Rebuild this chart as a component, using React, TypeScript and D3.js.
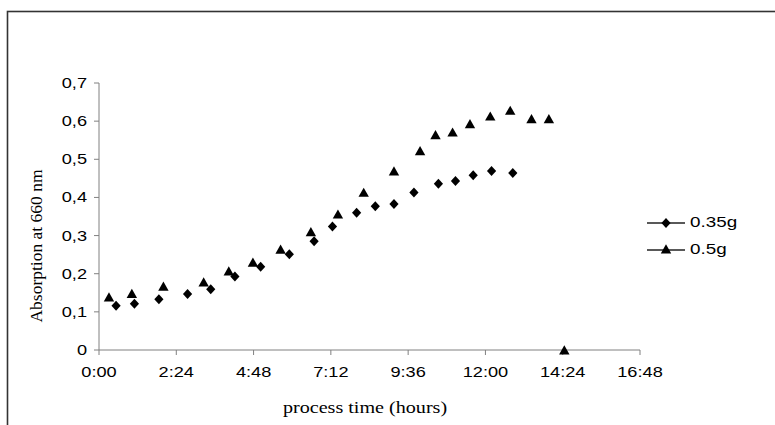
import React from "react";
import * as d3 from "d3";

// process time in hours, absorbance at 660 nm
const timesA = [0.53, 1.1, 1.86, 2.75, 3.47, 4.22, 5.02, 5.91, 6.68, 7.25, 8.0, 8.58, 9.16, 9.78, 10.54, 11.07, 11.62, 12.19, 12.85];
const valuesA = [0.116, 0.121, 0.133, 0.147, 0.159, 0.193, 0.218, 0.251, 0.285, 0.324, 0.36, 0.377, 0.383, 0.413, 0.436, 0.443, 0.458, 0.469, 0.464];
const timesB = [0.31, 1.02, 2.0, 3.25, 4.03, 4.78, 5.64, 6.58, 7.42, 8.22, 9.16, 9.97, 10.45, 10.98, 11.52, 12.15, 12.77, 13.43, 13.97, 14.45];
const valuesB = [0.139, 0.148, 0.167, 0.178, 0.207, 0.23, 0.264, 0.31, 0.356, 0.413, 0.469, 0.522, 0.564, 0.571, 0.593, 0.613, 0.628, 0.606, 0.606, 0];
const seriesNames = ["0.35g", "0.5g"];
const xTicks = [0, 2.4, 4.8, 7.2, 9.6, 12, 14.4, 16.8];
const yTicks = [0, 0.1, 0.2, 0.3, 0.4, 0.5, 0.6, 0.7];
const xTitle = "process time (hours)";
const yTitle = "Absorption at 660 nm";

const W = 775;
const H = 425;
const SX = 1.3;
const sans = "Arial, 'Liberation Sans', sans-serif";
const serif = "'Times New Roman', 'Liberation Serif', serif";

const fmtTime = (h: number) => {
  const total = Math.round(h * 60);
  const hh = Math.floor(total / 60);
  const mm = total % 60;
  return `${hh}:${mm < 10 ? "0" : ""}${mm}`;
};
const fmtVal = (v: number) => (v === 0 ? "0" : d3.format(".1f")(v).replace(".", ","));

const diamond = (cx: number, cy: number) =>
  `M${cx},${cy - 5}L${cx + 4.6},${cy}L${cx},${cy + 5}L${cx - 4.6},${cy}Z`;
const triangle = (cx: number, cy: number) =>
  `M${cx},${cy - 4.8}L${cx + 5.2},${cy + 4.4}L${cx - 5.2},${cy + 4.4}Z`;

function SText(props: { x: number; y: number; sx?: number; rot?: number; anchor?: string; size: number; family: string; children: any }) {
  const { x, y, sx = SX, rot = 0, anchor = "middle", size, family, children } = props;
  return (
    <text
      transform={`translate(${x},${y}) scale(${sx},1)${rot ? ` rotate(${rot})` : ""}`}
      textAnchor={anchor}
      fontSize={size}
      fontFamily={family}
      fill="#000"
    >
      {children}
    </text>
  );
}

export default function App() {
  const x = d3.scaleLinear().domain([0, 16.8]).range([99, 640]);
  const y = d3.scaleLinear().domain([0, 0.7]).range([350, 83]);

  return (
    <svg width={W} height={H} style={{ position: "absolute", left: 0, top: 0, background: "#fff" }}>
      <rect x={0} y={0} width={W} height={H} fill="#fff" />
      <rect x={7.5} y={11.5} width={W + 20} height={H + 20} fill="none" stroke="#333" strokeWidth={1.6} />

      {/* axes */}
      <line x1={x(0)} x2={x(0)} y1={y(0.7)} y2={y(0)} stroke="#808080" strokeWidth={1} />
      <line x1={x(0)} x2={x(16.8)} y1={y(0)} y2={y(0)} stroke="#808080" strokeWidth={1} />
      {yTicks.map((t) => (
        <g key={"y" + t}>
          <line x1={x(0) - 5} x2={x(0)} y1={y(t)} y2={y(t)} stroke="#808080" />
          <SText x={87} y={y(t) + 5} anchor="end" size={14} family={sans}>
            {fmtVal(t)}
          </SText>
        </g>
      ))}
      {xTicks.map((t) => (
        <g key={"x" + t}>
          <line x1={x(t)} x2={x(t)} y1={y(0)} y2={y(0) + 5} stroke="#808080" />
          <SText x={x(t)} y={377} size={14} family={sans}>
            {fmtTime(t)}
          </SText>
        </g>
      ))}

      {/* titles */}
      <SText x={365} y={413} sx={1.15} size={17.5} family={serif}>
        {xTitle}
      </SText>
      <SText x={42} y={246} sx={1.0} rot={-90} size={17.5} family={serif}>
        {yTitle}
      </SText>

      {/* series */}
      {timesA.map((t, i) => (
        <path key={"a" + i} d={diamond(x(t), y(valuesA[i]))} fill="#000" />
      ))}
      {timesB.map((t, i) => (
        <path key={"b" + i} d={triangle(x(t), y(valuesB[i]))} fill="#000" />
      ))}

      {/* legend */}
      <line x1={647} x2={685} y1={223} y2={223} stroke="#222" strokeWidth={1.5} />
      <path d={diamond(666, 223)} fill="#000" />
      <SText x={690} y={227} anchor="start" size={14.5} family={sans}>
        {seriesNames[0]}
      </SText>
      <line x1={647} x2={685} y1={250} y2={250} stroke="#222" strokeWidth={1.5} />
      <path d={triangle(666, 249)} fill="#000" />
      <SText x={690} y={254} anchor="start" size={14.5} family={sans}>
        {seriesNames[1]}
      </SText>
    </svg>
  );
}
